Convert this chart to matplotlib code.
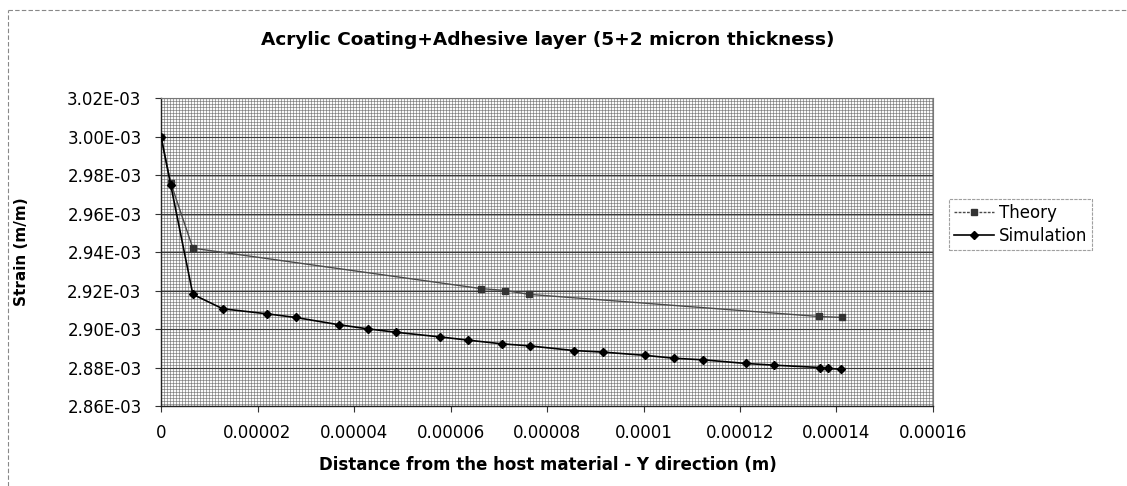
import numpy as np
import matplotlib
matplotlib.use("Agg")
import matplotlib.pyplot as plt
from matplotlib.ticker import FuncFormatter, MultipleLocator
from matplotlib.lines import Line2D

# Distance from the host material (m) and strain (m/m)
theory_x = [0.0, 2.0e-6, 6.6e-6, 6.63e-5, 7.13e-5, 7.63e-5, 1.363e-4, 1.411e-4]
theory_y = [3.000e-3, 2.976e-3, 2.942e-3, 2.921e-3, 2.920e-3, 2.918e-3,
            2.9065e-3, 2.906e-3]

sim_x = [0.0, 2.0e-6, 6.6e-6, 1.28e-5, 2.19e-5, 2.79e-5, 3.69e-5, 4.28e-5,
         4.87e-5, 5.78e-5, 6.37e-5, 7.06e-5, 7.65e-5, 8.56e-5, 9.16e-5,
         1.004e-4, 1.063e-4, 1.123e-4, 1.212e-4, 1.271e-4, 1.366e-4,
         1.383e-4, 1.409e-4]
sim_y = [3.000e-3, 2.975e-3, 2.918e-3, 2.9105e-3, 2.9079e-3, 2.906e-3,
         2.9022e-3, 2.9001e-3, 2.8983e-3, 2.8959e-3, 2.8942e-3, 2.8923e-3,
         2.8912e-3, 2.8888e-3, 2.8880e-3, 2.8863e-3, 2.8848e-3, 2.8840e-3,
         2.8821e-3, 2.8812e-3, 2.8800e-3, 2.8795e-3, 2.8791e-3]

series_names = ["Theory", "Simulation"]
title = "Acrylic Coating+Adhesive layer (5+2 micron thickness)"
x_label = "Distance from the host material - Y direction (m)"
y_label = "Strain (m/m)"

plt.rcParams["font.family"] = ["DejaVu Sans"]

W, H = 1127, 486
fig = plt.figure(figsize=(W / 100, H / 100), dpi=100)
fig.patch.set_facecolor("white")

left, right, top, bottom = 161, 933, 98, 406
ax = fig.add_axes([left / W, 1 - bottom / H, (right - left) / W, (bottom - top) / H])

xmin, xmax = 0.0, 0.00016
ymin, ymax = 2.86e-3, 3.02e-3

# Dotted-grid fill pattern for the plot area
pw, ph = right - left, bottom - top
yy, xx = np.mgrid[0:ph, 0:pw]
pattern = np.where((yy % 3 == 0) | (xx % 3 == 0), 0.66, 0.98)
pattern = np.where((yy % 3 == 0) & (xx % 3 == 0), 0.5, pattern)
ax.imshow(pattern, cmap="gray", vmin=0, vmax=1, extent=[xmin, xmax, ymin, ymax],
          aspect="auto", interpolation="nearest", zorder=0)

ax.set_xlim(xmin, xmax)
ax.set_ylim(ymin, ymax)

ax.plot(theory_x, theory_y, color="#4a4a4a", lw=1.0, marker="s", ms=5,
        mfc="#333333", mec="#333333", zorder=3)
ax.plot(sim_x, sim_y, color="black", lw=1.2, marker="D", ms=4.5,
        mfc="black", mec="black", zorder=4)

ax.yaxis.set_major_locator(MultipleLocator(0.02e-3))
ax.xaxis.set_major_locator(MultipleLocator(0.00002))
ax.yaxis.set_major_formatter(FuncFormatter(lambda v, p: "{:.2E}".format(v)))
ax.xaxis.set_major_formatter(
    FuncFormatter(lambda v, p: ("%.5f" % v).rstrip("0").rstrip(".")))

ax.grid(axis="y", color="#3a3a3a", lw=0.8)
ax.tick_params(axis="both", labelsize=12, length=4, width=0.8, color="#333333",
               direction="out")
ax.tick_params(axis="y", pad=10)
ax.tick_params(axis="x", pad=9)
for side in ("top", "right"):
    ax.spines[side].set_color("#777777")
    ax.spines[side].set_linewidth(0.8)
for side in ("left", "bottom"):
    ax.spines[side].set_color("#222222")
    ax.spines[side].set_linewidth(1.0)

fig.text(548 / W, 1 - 40 / H, title, ha="center", va="center",
         fontsize=13.3, fontweight="bold")
fig.text(548 / W, 1 - 465 / H, x_label, ha="center", va="center",
         fontsize=12, fontweight="bold")
fig.text(22 / W, 1 - 252 / H, y_label, ha="center", va="center",
         rotation=90, fontsize=11, fontweight="bold")

handles = [
    Line2D([], [], color="#4a4a4a", lw=1.0, ls=(0, (2, 1)), marker="s", ms=5,
           mfc="#333333", mec="#333333"),
    Line2D([], [], color="black", lw=1.2, marker="D", ms=4.5, mfc="black", mec="black"),
]
leg = fig.legend(handles, series_names, loc="upper left",
                 bbox_to_anchor=(949 / W, 1 - 199 / H), fontsize=12,
                 frameon=True, fancybox=False, borderpad=0.3, handlelength=2.4,
                 handletextpad=0.3, labelspacing=0.3, borderaxespad=0)
leg.get_frame().set_edgecolor("#888888")
leg.get_frame().set_linestyle((0, (3, 1)))
leg.get_frame().set_linewidth(0.8)

# Dashed chart-area border along the left and top
fig.add_artist(Line2D([8 / W, 8 / W], [0, 1 - 10 / H], transform=fig.transFigure,
                      color="#888888", lw=0.8, ls=(0, (4, 2))))
fig.add_artist(Line2D([8 / W, 1], [1 - 10 / H, 1 - 10 / H], transform=fig.transFigure,
                      color="#888888", lw=0.8, ls=(0, (4, 2))))

fig.savefig("out.png", dpi=100)
